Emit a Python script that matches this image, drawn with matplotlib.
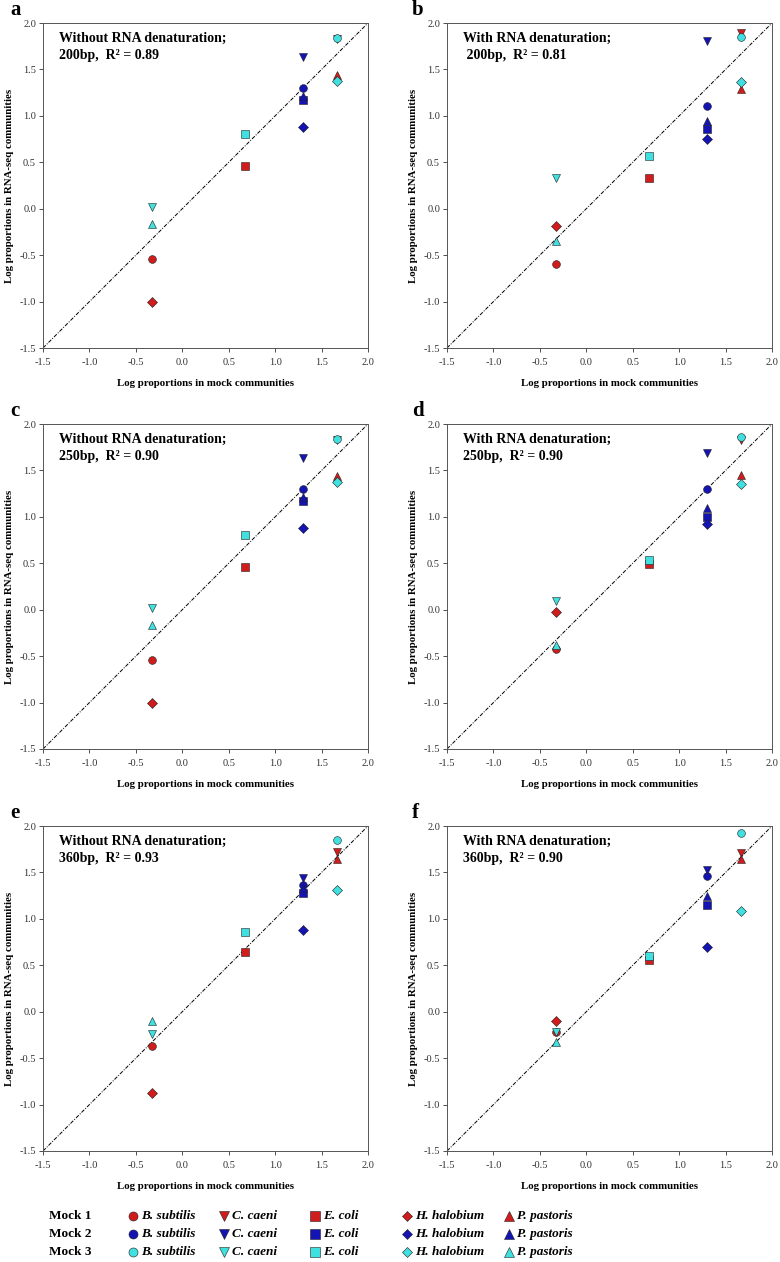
import matplotlib
matplotlib.use("Agg")
import matplotlib.pyplot as plt
from matplotlib.lines import Line2D

plt.rcParams['font.family'] = ['Liberation Serif', 'DejaVu Serif']

# species order and styles
species = ['B. subtilis', 'C. caeni', 'E. coli', 'H. halobium', 'P. pastoris']
markers = ['o', 'v', 's', 'D', '^']
mock_names = ['Mock 1', 'Mock 2', 'Mock 3']
mock_colors = ['#D01C1C', '#1414B4', '#40E0E0']

# log proportions in mock communities (x), per mock, same species order
x_mock1 = [-0.33, 1.67, 0.67, -0.33, 1.67]
x_mock2 = [1.30, 1.30, 1.30, 1.30, 1.30]
x_mock3 = [1.67, -0.33, 0.67, 1.67, -0.33]

# log proportions in RNA-seq communities (y)
a_mock1 = [-0.54, 1.83, 0.46, -1.00, 1.44]
a_mock2 = [1.30, 1.63, 1.17, 0.88, 1.21]
a_mock3 = [1.84, 0.02, 0.81, 1.38, -0.16]

b_mock1 = [-0.60, 1.89, 0.33, -0.19, 1.29]
b_mock2 = [1.11, 1.81, 0.86, 0.75, 0.94]
b_mock3 = [1.85, 0.33, 0.57, 1.36, -0.35]

c_mock1 = [-0.54, 1.83, 0.46, -1.00, 1.44]
c_mock2 = [1.30, 1.63, 1.17, 0.88, 1.21]
c_mock3 = [1.84, 0.02, 0.81, 1.38, -0.16]

d_mock1 = [-0.42, 1.83, 0.49, -0.02, 1.45]
d_mock2 = [1.30, 1.69, 1.00, 0.92, 1.10]
d_mock3 = [1.86, 0.09, 0.54, 1.35, -0.38]

e_mock1 = [-0.37, 1.72, 0.64, -0.88, 1.64]
e_mock2 = [1.37, 1.44, 1.28, 0.88, 1.33]
e_mock3 = [1.85, -0.24, 0.86, 1.31, -0.10]

f_mock1 = [-0.22, 1.71, 0.56, -0.10, 1.64]
f_mock2 = [1.46, 1.53, 1.15, 0.70, 1.25]
f_mock3 = [1.92, -0.22, 0.60, 1.08, -0.33]

panel_letters = ['a', 'b', 'c', 'd', 'e', 'f']
panel_text = [
    'Without RNA denaturation;\n200bp,  R\u00b2 = 0.89',
    'With RNA denaturation;\n 200bp,  R\u00b2 = 0.81',
    'Without RNA denaturation;\n250bp,  R\u00b2 = 0.90',
    'With RNA denaturation;\n250bp,  R\u00b2 = 0.90',
    'Without RNA denaturation;\n360bp,  R\u00b2 = 0.93',
    'With RNA denaturation;\n360bp,  R\u00b2 = 0.90',
]
panel_data = [
    (a_mock1, a_mock2, a_mock3),
    (b_mock1, b_mock2, b_mock3),
    (c_mock1, c_mock2, c_mock3),
    (d_mock1, d_mock2, d_mock3),
    (e_mock1, e_mock2, e_mock3),
    (f_mock1, f_mock2, f_mock3),
]
x_all = [x_mock1, x_mock2, x_mock3]
ticks = [-1.5, -1.0, -0.5, 0.0, 0.5, 1.0, 1.5, 2.0]

W, H = 780, 1262
fig = plt.figure(figsize=(W / 100, H / 100), dpi=100)

lefts = [43, 447]
tops = [24, 425, 827]
size = 325

for i in range(6):
    row, col = divmod(i, 2)
    l = lefts[col]
    t = tops[row]
    ax = fig.add_axes([l / W, 1 - (t + size - 1) / H, size / W, size / H])
    ax.plot([-1.5, 2.0], [-1.5, 2.0], color='black', lw=0.7, ls='-.',
            dashes=(4, 1.5, 1, 1.5))
    for m in range(3):
        ys = panel_data[i][m]
        for k in range(5):
            ms = 4.6 if markers[k] == 'D' else 5.6
            ax.plot(x_all[m][k], ys[k], marker=markers[k], ls='none',
                    ms=ms, mfc=mock_colors[m], mec='#202020', mew=0.4)
    ax.set_xlim(-1.5, 2.0)
    ax.set_ylim(-1.5, 2.0)
    ax.set_xticks(ticks)
    ax.set_yticks(ticks)
    ax.set_xticklabels(['%.1f' % v for v in ticks])
    ax.set_yticklabels(['%.1f' % v for v in ticks])
    ax.tick_params(direction='out', length=3, width=0.6, labelsize=7.5,
                   top=False, right=False, colors='#333333')
    ax.tick_params(axis='x', pad=4)
    ax.tick_params(axis='y', pad=2)
    for s in ax.spines.values():
        s.set_linewidth(0.7)
        s.set_color('#555555')
    ax.set_xlabel('Log proportions in mock communities', fontsize=7.8,
                  fontweight='bold', labelpad=9)
    ax.set_ylabel('Log proportions in RNA-seq communities', fontsize=7.8,
                  fontweight='bold', labelpad=4)
    ax.text(0.048, 0.972, panel_text[i], transform=ax.transAxes,
            fontsize=10, fontweight='bold', va='top', ha='left',
            linespacing=1.4)
    fig.text((10 if col == 0 else 412) / W, 1 - (t - 14) / H,
             panel_letters[i], fontsize=15, fontweight='bold',
             ha='left', va='center')

# legend block at the bottom
row_y = [1216, 1234, 1252]
marker_x = [133, 224, 315, 407, 509]
for m in range(3):
    y = 1 - row_y[m] / H
    fig.text(49 / W, y, mock_names[m], fontsize=9.5, fontweight='bold',
             ha='left', va='center')
    for k in range(5):
        ms = 5.0 if markers[k] == 'D' else 6.5
        fig.add_artist(Line2D([marker_x[k] / W], [y], marker=markers[k],
                              ls='none', ms=ms, mfc=mock_colors[m],
                              mec='#202020', mew=0.4,
                              transform=fig.transFigure))
        fig.text((marker_x[k] + 8) / W, y, species[k], fontsize=9.5,
                 fontweight='bold', fontstyle='italic', ha='left',
                 va='center')

fig.savefig('out.png', dpi=100, facecolor='white')
